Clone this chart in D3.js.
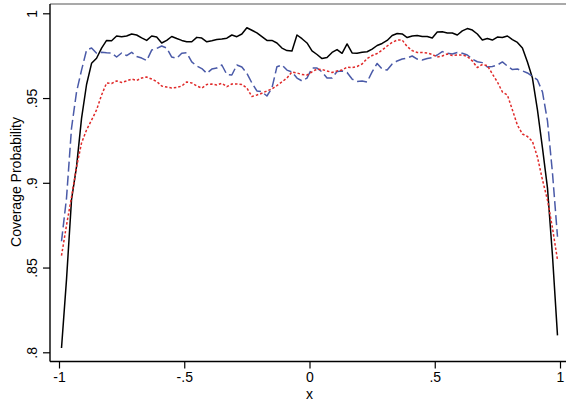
<!DOCTYPE html>
<html>
<head>
<meta charset="utf-8">
<script src="https://cdn.jsdelivr.net/npm/d3@7"></script>
<style>
    body { margin: 0; background: #fff; }
    svg { display: block; font-family: "Liberation Sans", Arial, sans-serif; }
</style>
</head>
<body>
<svg id="chart" width="566" height="402"></svg>
<script>
// x grid the three curves are sampled on (step 0.02)
const xs = d3.range(-0.99, 0.995, 0.02).map((d) => +d.toFixed(2));

const solidVals = [
    0.8025, 0.843, 0.890, 0.9095, 0.938, 0.958, 0.9705, 0.9735, 0.9795, 0.984,
    0.9838, 0.9866, 0.9862, 0.9866, 0.9878, 0.9872, 0.9855, 0.984, 0.9866, 0.986,
    0.9825, 0.984, 0.9863, 0.9851, 0.984, 0.9832, 0.9832, 0.9858, 0.9854, 0.9832,
    0.9838, 0.9845, 0.9848, 0.9853, 0.9872, 0.9862, 0.9878, 0.9915, 0.990, 0.9884,
    0.9862, 0.984, 0.984, 0.9825, 0.9795, 0.978, 0.9778, 0.9872, 0.985, 0.9825,
    0.9778, 0.9757, 0.9733, 0.9739, 0.9769, 0.9786, 0.9764, 0.9819, 0.9766, 0.9764,
    0.977, 0.9773, 0.9789, 0.981, 0.9822, 0.984, 0.9869, 0.9881, 0.9878, 0.9857,
    0.9866, 0.9869, 0.9863, 0.9863, 0.9854, 0.989, 0.9891, 0.9884, 0.9884, 0.9872,
    0.9896, 0.991, 0.9901, 0.9878, 0.9842, 0.9851, 0.9842, 0.986, 0.9857, 0.9866,
    0.9845, 0.9828, 0.9795, 0.9713, 0.9618, 0.943, 0.9206, 0.897, 0.857, 0.810
];

const dashVals = [
    0.8655, 0.891, 0.9323, 0.9536, 0.9665, 0.9783, 0.9795, 0.9764, 0.977, 0.9767,
    0.9766, 0.9742, 0.9766, 0.9751, 0.977, 0.9745, 0.9736, 0.9721, 0.9783, 0.9793,
    0.9807, 0.9795, 0.9742, 0.9735, 0.9764, 0.9767, 0.9713, 0.9689, 0.9674, 0.9646,
    0.9671, 0.9677, 0.9695, 0.9639, 0.9636, 0.9695, 0.9683, 0.9646, 0.9589, 0.9542,
    0.9537, 0.9512, 0.9559, 0.9685, 0.9695, 0.9665, 0.9654, 0.9618, 0.9601, 0.9618,
    0.9677, 0.9677, 0.9654, 0.9618, 0.9618, 0.9657, 0.966, 0.9651, 0.9612, 0.9598,
    0.9601, 0.9595, 0.9654, 0.9704, 0.9671, 0.9665, 0.9701, 0.9719, 0.973, 0.9736,
    0.9748, 0.973, 0.9724, 0.9733, 0.9739, 0.9754, 0.9774, 0.9764, 0.976, 0.9769,
    0.9764, 0.9754, 0.973, 0.9714, 0.9709, 0.9683, 0.9686, 0.9695, 0.9713, 0.9689,
    0.9668, 0.9671, 0.966, 0.9648, 0.9627, 0.9607, 0.9536, 0.9365, 0.9058, 0.8682
];

const dotVals = [
    0.857, 0.875, 0.8916, 0.9093, 0.9235, 0.9312, 0.937, 0.943, 0.9518, 0.9589,
    0.9586, 0.9601, 0.9592, 0.9601, 0.9612, 0.9604, 0.9618, 0.9624, 0.9612, 0.9598,
    0.9571, 0.9565, 0.9559, 0.9562, 0.9571, 0.9595, 0.9589, 0.9571, 0.9559, 0.958,
    0.9583, 0.9577, 0.9587, 0.9567, 0.9583, 0.9583, 0.958, 0.9559, 0.9509, 0.9518,
    0.9528, 0.9542, 0.9554, 0.9574, 0.9595, 0.9618, 0.9654, 0.9648, 0.9639, 0.9636,
    0.9654, 0.9671, 0.9668, 0.966, 0.9651, 0.966, 0.9665, 0.9683, 0.968, 0.9686,
    0.9701, 0.9733, 0.9751, 0.9763, 0.9783, 0.9807, 0.9828, 0.9842, 0.9842, 0.9804,
    0.978, 0.9769, 0.9769, 0.9766, 0.9757, 0.9742, 0.9748, 0.976, 0.9751, 0.9754,
    0.9754, 0.9745, 0.9719, 0.968, 0.9698, 0.9692, 0.9642, 0.9595, 0.9536, 0.9518,
    0.943, 0.934, 0.9288, 0.9273, 0.9244, 0.9152, 0.9017, 0.8899, 0.8733, 0.8545
];

const xTickVals = [-1, -0.5, 0, 0.5, 1];
const xTickLabels = ["-1", "-.5", "0", ".5", "1"];
const yTickVals = [0.8, 0.85, 0.9, 0.95, 1];
const yTickLabels = [".8", ".85", ".9", ".95", "1"];

const svg = d3.select("#chart");
const frame = { left: 50, right: 566, top: 4, bottom: 361.5 };

const x = d3.scaleLinear().domain([-1, 1]).range([59, 560]);
const y = d3.scaleLinear().domain([0.8, 1]).range([352.3, 13.3]);

// frame: grey top edge, black axes on left and bottom
svg.append("line")
    .attr("x1", frame.left).attr("x2", frame.right)
    .attr("y1", frame.top).attr("y2", frame.top)
    .attr("stroke", "#8c8c8c").attr("stroke-width", 1.6);

const yAxis = svg.append("g")
    .attr("transform", `translate(${frame.left},0)`)
    .call(d3.axisLeft(y).tickValues(yTickVals).tickSize(7)
        .tickFormat((d, i) => yTickLabels[i]));
yAxis.select(".domain").remove();
yAxis.append("line")
    .attr("x1", 0).attr("x2", 0)
    .attr("y1", frame.top).attr("y2", frame.bottom)
    .attr("stroke", "#000").attr("stroke-width", 1.4);
yAxis.selectAll(".tick line").attr("stroke-width", 1.2);
// labels rotated to read bottom-up, centred on the tick
yAxis.selectAll(".tick text")
    .attr("font-size", 14)
    .attr("fill", "#000")
    .attr("text-anchor", "middle")
    .attr("x", 0)
    .attr("y", -13)
    .attr("dy", 0)
    .attr("transform", "rotate(-90)");

const xAxis = svg.append("g")
    .attr("transform", `translate(0,${frame.bottom})`)
    .call(d3.axisBottom(x).tickValues(xTickVals).tickSize(7).tickPadding(4)
        .tickFormat((d, i) => xTickLabels[i]));
xAxis.select(".domain").remove();
xAxis.append("line")
    .attr("x1", frame.left).attr("x2", frame.right)
    .attr("y1", 0).attr("y2", 0)
    .attr("stroke", "#000").attr("stroke-width", 1.4);
xAxis.selectAll(".tick line").attr("stroke-width", 1.2);
xAxis.selectAll(".tick text").attr("font-size", 14).attr("fill", "#000");

// axis titles
svg.append("text")
    .attr("x", 309.5).attr("y", 399)
    .attr("text-anchor", "middle")
    .attr("font-size", 14)
    .text("x");
svg.append("text")
    .attr("transform", "translate(21,182) rotate(-90)")
    .attr("text-anchor", "middle")
    .attr("font-size", 14)
    .text("Coverage Probability");

// curves
const series = [
    { vals: solidVals, color: "#000000", dash: null, width: 1.5 },
    { vals: dashVals, color: "#4a5aa8", dash: "10,4", width: 1.5 },
    { vals: dotVals, color: "#e02a2a", dash: "2.5,2", width: 1.5 },
];

const line = d3.line()
    .x((d) => x(d[0]))
    .y((d) => y(d[1]));

svg.append("g").attr("id", "curves")
    .selectAll("path")
    .data(series)
    .enter()
    .append("path")
    .attr("d", (s) => line(xs.map((xv, i) => [xv, s.vals[i]])))
    .attr("fill", "none")
    .attr("stroke", (s) => s.color)
    .attr("stroke-width", (s) => s.width)
    .attr("stroke-dasharray", (s) => s.dash)
    .attr("stroke-linejoin", "round");
</script>
</body>
</html>
